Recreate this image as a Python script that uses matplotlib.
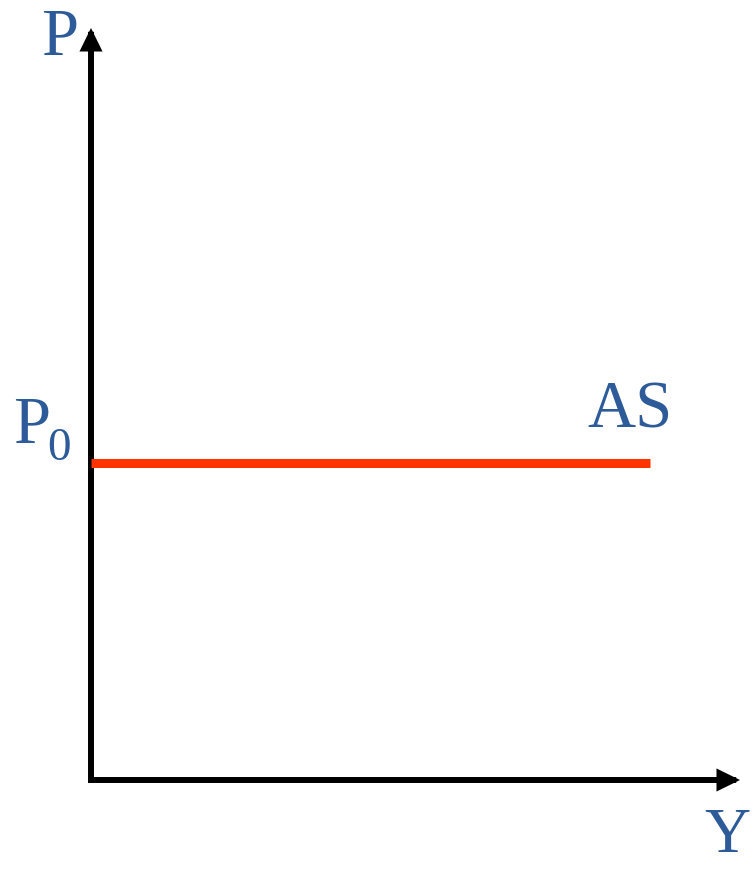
"""
Horizontal aggregate supply curve (AS) at price level P0
"""

import matplotlib.pyplot as plt
from matplotlib.patches import FancyArrowPatch

# data (units: output Y on x, price P on y)
axis_x_end = 649
axis_y_end = 752
p0_level = 317
as_y = [0, 559]
as_p = [p0_level, p0_level]
axis_labels = ["Y", "P"]
curve_label = "AS"
level_label = ["P", "0"]

text_color = "#2D5A98"
curve_color = "#FF3300"

fig = plt.figure(figsize=(7.55, 8.69), dpi=100)
ax = fig.add_axes([0, 0, 1, 1])
ax.set_xlim(-91, 664)
ax.set_ylim(-89, 780)
ax.axis("off")

font = dict(family="Liberation Serif", color=text_color)

# axes with arrow heads
for end in [(axis_x_end, 0), (0, axis_y_end)]:
    arr = FancyArrowPatch(
        (0, 0),
        end,
        arrowstyle="-|>,head_length=0.55,head_width=0.27",
        mutation_scale=18,
        color="black",
        lw=4.3,
        shrinkA=0,
        shrinkB=0,
        capstyle="projecting",
        joinstyle="miter",
    )
    ax.add_patch(arr)

# AS curve
ax.plot(as_y, as_p, color=curve_color, lw=6.5, solid_capstyle="butt")

# labels
ax.text(-31, axis_y_end - 27, axis_labels[1], fontsize=48, ha="center", va="baseline", **font)
ax.text(636, -72, axis_labels[0], fontsize=46, ha="center", va="baseline", **font)
ax.text(-59, p0_level + 20, level_label[0], fontsize=48, ha="center", va="baseline", **font)
ax.text(-32, p0_level + 3, level_label[1], fontsize=34, ha="center", va="baseline", **font)
ax.text(539, p0_level + 36, curve_label, fontsize=48, ha="center", va="baseline", **font)

fig.savefig("out.png", dpi=100)
